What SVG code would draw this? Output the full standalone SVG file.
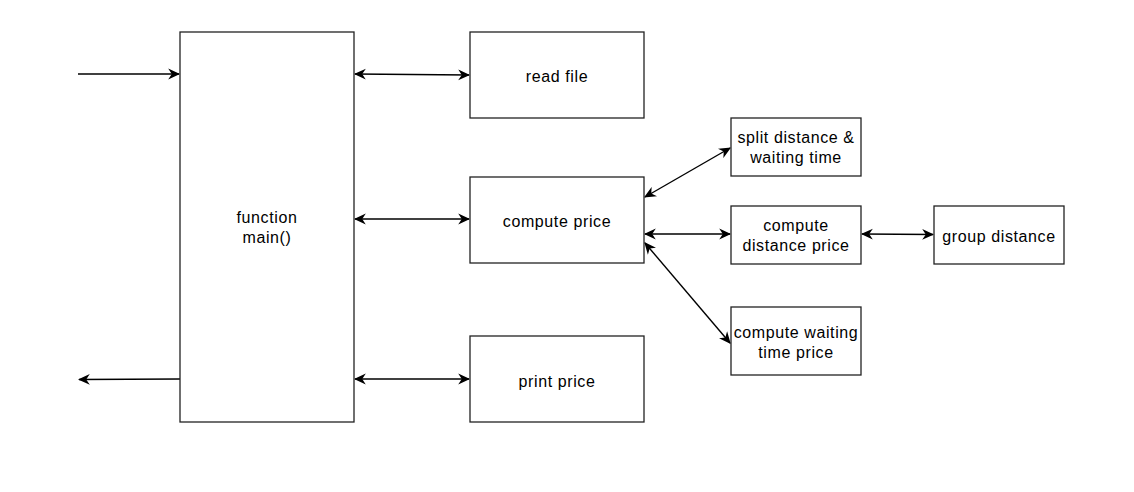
<svg xmlns="http://www.w3.org/2000/svg" width="1134" height="492" viewBox="0 0 1134 492">
<style>
.box{fill:#fff;stroke:#222;stroke-width:1.3}
.t{font-family:"Liberation Sans",Arial,sans-serif;font-size:16px;letter-spacing:0.6px;fill:#000;text-anchor:middle}
.c{fill:none;stroke:#000;stroke-width:1.4}
</style>
<defs>
<marker id="a" viewBox="0 0 10 10" refX="9" refY="5" markerWidth="12" markerHeight="12" markerUnits="userSpaceOnUse" orient="auto-start-reverse">
<path d="M0,0.5 L10,5 L0,9.5 L3,5 Z" fill="#000"/>
</marker>
</defs>
<rect width="1134" height="492" fill="#fff"/>
<g id="connectors">
<path class="c" d="M78,74 L179,74" marker-end="url(#a)"/>
<path class="c" d="M180,379 L79,379.5" marker-end="url(#a)"/>
<path class="c" d="M355,74 L469,75" marker-start="url(#a)" marker-end="url(#a)"/>
<path class="c" d="M355,219 L469,219" marker-start="url(#a)" marker-end="url(#a)"/>
<path class="c" d="M355,379 L469,379" marker-start="url(#a)" marker-end="url(#a)"/>
<path class="c" d="M645,197 L730,148" marker-start="url(#a)" marker-end="url(#a)"/>
<path class="c" d="M645,234 L730,234" marker-start="url(#a)" marker-end="url(#a)"/>
<path class="c" d="M645,243 L730,343" marker-start="url(#a)" marker-end="url(#a)"/>
<path class="c" d="M862,234 L933,234.5" marker-start="url(#a)" marker-end="url(#a)"/>
</g>
<g id="main"><rect class="box" x="180" y="32" width="174" height="390"/><text class="t" x="267" y="223">function</text><text class="t" x="267" y="243">main()</text></g>
<g id="readfile"><rect class="box" x="470" y="32" width="174" height="86"/><text class="t" x="557" y="82">read file</text></g>
<g id="computeprice"><rect class="box" x="470" y="177" width="174" height="86"/><text class="t" x="557" y="227">compute price</text></g>
<g id="printprice"><rect class="box" x="470" y="336" width="174" height="86"/><text class="t" x="557" y="387">print price</text></g>
<g id="split"><rect class="box" x="731" y="118" width="130" height="58"/><text class="t" x="796" y="143">split distance &amp;</text><text class="t" x="796" y="163">waiting time</text></g>
<g id="distprice"><rect class="box" x="731" y="206" width="130" height="58"/><text class="t" x="796" y="231">compute</text><text class="t" x="796" y="251">distance price</text></g>
<g id="group"><rect class="box" x="934" y="206" width="130" height="58"/><text class="t" x="999" y="242">group distance</text></g>
<g id="waitprice"><rect class="box" x="731" y="307" width="130" height="68"/><text class="t" x="796" y="338">compute waiting</text><text class="t" x="796" y="358">time price</text></g>
</svg>
